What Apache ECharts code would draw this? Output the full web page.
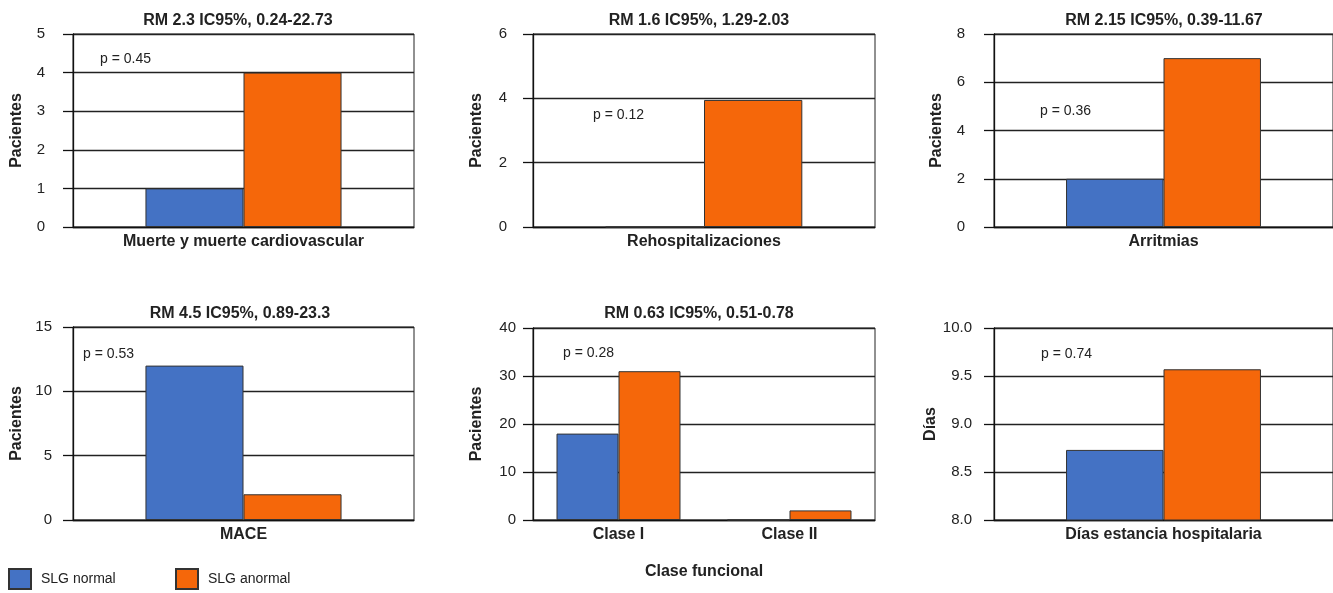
<!DOCTYPE html>
<html>
<head>
<meta charset="utf-8">
<script src="https://cdn.jsdelivr.net/npm/echarts@6/dist/echarts.min.js"></script>
<style>
html,body{margin:0;padding:0;background:#fff;}
#chart{width:1333px;height:593px;}
</style>
</head>
<body>
<div id="chart"></div>
<script>
// ---- data ----
const panelTitles = ['RM 2.3 IC95%, 0.24-22.73', 'RM 1.6 IC95%, 1.29-2.03', 'RM 2.15 IC95%, 0.39-11.67', 'RM 4.5 IC95%, 0.89-23.3', 'RM 0.63 IC95%, 0.51-0.78', ''];
const pValues = ['p = 0.45', 'p = 0.12', 'p = 0.36', 'p = 0.53', 'p = 0.28', 'p = 0.74'];
const yNames = ['Pacientes', 'Pacientes', 'Pacientes', 'Pacientes', 'Pacientes', 'Días'];
const catMuerte = ['Muerte y muerte cardiovascular'];
const catRehosp = ['Rehospitalizaciones'];
const catArritmias = ['Arritmias'];
const catMace = ['MACE'];
const catClase = ['Clase I', 'Clase II'];
const catDias = ['Días estancia hospitalaria'];
const claseAxisName = 'Clase funcional';
const seriesNames = ['SLG normal', 'SLG anormal'];
const normalMuerte = [1],   anormalMuerte = [4];
const normalRehosp = [0],   anormalRehosp = [3.95];
const normalArrit = [2],    anormalArrit = [7];
const normalMace = [12],    anormalMace = [2];
const normalClase = [18, 0], anormalClase = [31, 2];
const normalDias = [8.73],  anormalDias = [9.57];
const yMin = [0, 0, 0, 0, 0, 8];
const yMax = [5, 6, 8, 15, 40, 10];
const yStep = [1, 2, 2, 5, 10, 0.5];
const yDecimals = [0, 0, 0, 0, 0, 1];

const categories = [catMuerte, catRehosp, catArritmias, catMace, catClase, catDias];
const normalVals = [normalMuerte, normalRehosp, normalArrit, normalMace, normalClase, normalDias];
const anormalVals = [anormalMuerte, anormalRehosp, anormalArrit, anormalMace, anormalClase, anormalDias];

// ---- layout ----
const FONT = '"Liberation Sans", Arial, Helvetica, sans-serif';
const TXT = '#222';
const BLUE = '#4472C4', ORANGE = '#F5670A';
const grids = [
  {left: 73,  top: 34,  width: 341, height: 193},
  {left: 533, top: 34,  width: 342, height: 193},
  {left: 994, top: 34,  width: 340, height: 193},
  {left: 73,  top: 327, width: 341, height: 193},
  {left: 533, top: 328, width: 342, height: 192},
  {left: 994, top: 328, width: 340, height: 192}
];
const labelMargin = [28, 26, 29, 21, 17, 22];
const nameGap = [48, 48, 49, 48, 48, 49];
const catGap = ['42.5%', '42.5%', '42.5%', '42.5%', '27.5%', '42.5%'];
const titlePos = [[238, 21], [699, 21], [1164, 21], [240, 314], [699, 314]];
const pPos = [[100, 59], [593, 115], [1040, 111], [83, 354], [563, 353], [1041, 354]];

const option = {
  animation: false,
  backgroundColor: '#fff',
  grid: grids.map(g => Object.assign({containLabel: false, show: true, borderColor: '#222', borderWidth: 1, backgroundColor: 'transparent'}, g)),
  xAxis: categories.map((c, i) => ({
    type: 'category', gridIndex: i, data: c,
    axisLine: {show: true, lineStyle: {color: '#111', width: 1.3}},
    axisTick: {show: false},
    axisLabel: {margin: 7, color: TXT, fontFamily: FONT, fontSize: 16, fontWeight: 'bold'},
    name: i === 4 ? claseAxisName : '',
    nameLocation: 'middle', nameGap: 44,
    nameTextStyle: {color: TXT, fontFamily: FONT, fontSize: 16, fontWeight: 'bold'}
  })),
  yAxis: categories.map((c, i) => ({
    type: 'value', gridIndex: i, min: yMin[i], max: yMax[i], interval: yStep[i],
    axisLine: {show: true, lineStyle: {color: '#111', width: 1.3}},
    axisTick: {show: true, inside: false, length: 10, lineStyle: {color: '#111', width: 1.3}},
    axisLabel: {margin: labelMargin[i], color: TXT, fontFamily: FONT, fontSize: 15,
      formatter: v => v.toFixed(yDecimals[i])},
    splitLine: {show: true, lineStyle: {color: '#222', width: 1.3}},
    name: yNames[i], nameLocation: 'middle', nameGap: nameGap[i], nameRotate: 90,
    nameTextStyle: {color: TXT, fontFamily: FONT, fontSize: 16, fontWeight: 'bold'}
  })),
  legend: [
    {left: 8, top: 568, data: [seriesNames[0]], icon: 'rect', itemWidth: 22, itemHeight: 20, padding: 0,
     textStyle: {color: TXT, fontFamily: FONT, fontSize: 14, padding: [0, 0, 0, 5]}},
    {left: 175, top: 568, data: [seriesNames[1]], icon: 'rect', itemWidth: 22, itemHeight: 20, padding: 0,
     textStyle: {color: TXT, fontFamily: FONT, fontSize: 14, padding: [0, 0, 0, 5]}}
  ],
  series: [],
  graphic: []
};

categories.forEach((c, i) => {
  option.series.push({
    type: 'bar', name: seriesNames[0], xAxisIndex: i, yAxisIndex: i, data: normalVals[i],
    barGap: '0%', barCategoryGap: catGap[i],
    itemStyle: {color: BLUE, borderColor: '#333', borderWidth: 1},
    emphasis: {disabled: true}
  });
  option.series.push({
    type: 'bar', name: seriesNames[1], xAxisIndex: i, yAxisIndex: i, data: anormalVals[i],
    barGap: '0%', barCategoryGap: catGap[i],
    itemStyle: {color: ORANGE, borderColor: '#333', borderWidth: 1},
    emphasis: {disabled: true}
  });
  if (panelTitles[i]) {
    option.graphic.push({
      type: 'text', x: titlePos[i][0], y: titlePos[i][1], silent: true,
      style: {text: panelTitles[i], textAlign: 'center', textVerticalAlign: 'middle',
        font: 'bold 16px ' + FONT, fill: TXT}
    });
  }
  option.graphic.push({
    type: 'text', x: pPos[i][0], y: pPos[i][1], silent: true,
    style: {text: pValues[i], textAlign: 'left', textVerticalAlign: 'middle',
      font: '14px ' + FONT, fill: TXT}
  });
});

const chart = echarts.init(document.getElementById('chart'), null, {renderer: 'canvas'});
chart.setOption(option);
</script>
</body>
</html>
